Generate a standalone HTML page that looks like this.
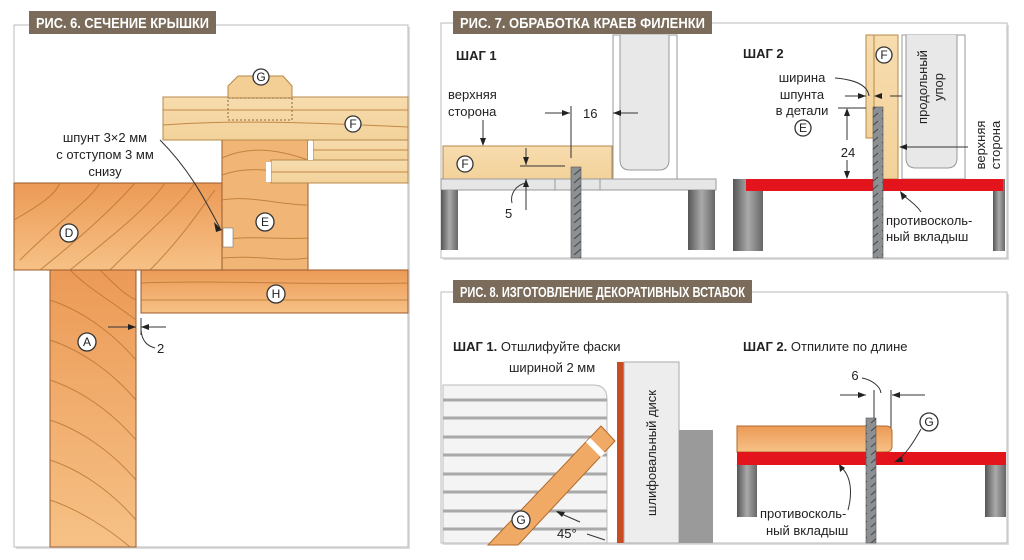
<!DOCTYPE html>
<html><head><meta charset="utf-8"><style>
body{margin:0;background:#fff;width:1024px;height:560px;overflow:hidden}
svg{display:block}
text{font-family:"Liberation Sans",sans-serif;fill:#222}
.t{font-family:"Liberation Sans",sans-serif;font-weight:bold;fill:#fff;font-size:15px}
.l{font-size:13px}
.c{fill:#fff;stroke:#333;stroke-width:1.3}
.cl{font-size:12px;text-anchor:middle}
.g{fill:none;stroke:#b8742e;stroke-width:1;opacity:.8}
</style></head><body>
<svg width="1024" height="560" viewBox="0 0 1024 560">
<defs>
<linearGradient id="leg" x1="0" x2="1"><stop offset="0" stop-color="#555"/><stop offset=".5" stop-color="#aaa"/><stop offset="1" stop-color="#666"/></linearGradient>
<linearGradient id="pw" x1="0" y1="0" x2="0" y2="1"><stop offset="0" stop-color="#f7dcae"/><stop offset="1" stop-color="#f3d29a"/></linearGradient>
<linearGradient id="ow" x1="0" y1="0" x2="0" y2="1"><stop offset="0" stop-color="#ec9a56"/><stop offset="1" stop-color="#f6c186"/></linearGradient>
<pattern id="bl" width="11" height="8" patternUnits="userSpaceOnUse"><rect width="11" height="8" fill="#8c9092"/><path d="M2 7 L9 1" stroke="#444" stroke-width="1"/></pattern>
</defs>
<rect x="16" y="27" width="394" height="522" fill="#ddd"/>
<rect x="14" y="25" width="394" height="522" fill="#fff" stroke="#bbb"/>
<rect x="443" y="25" width="566" height="235" fill="#ddd"/>
<rect x="441" y="23" width="566" height="235" fill="#fff" stroke="#bbb"/>
<rect x="443" y="294" width="566" height="251" fill="#ddd"/>
<rect x="441" y="292" width="566" height="251" fill="#fff" stroke="#bbb"/>

<!-- FIG 6 -->
<rect x="14" y="183" width="208" height="87" fill="url(#ow)" stroke="#9a5a2a"/>
<path class="g" d="M20 260 C60 220 90 200 100 183 M40 270 C90 230 120 200 135 183 M70 270 C120 230 150 205 165 183 M110 270 C150 230 180 205 195 183 M150 270 C180 240 200 210 215 190 M14 220 C40 205 55 195 60 183"/>
<rect x="222" y="140" width="86" height="130" fill="#f1b676" stroke="#9a5a2a"/>
<path class="g" d="M222 158 C250 145 280 150 308 160 M222 175 C250 165 280 170 308 180 M222 200 C250 195 280 205 308 205 M222 240 C250 235 280 240 308 238 M222 258 C260 255 280 262 308 258"/>
<rect x="223" y="228" width="10" height="19" fill="#fff" stroke="#777" stroke-width=".6"/>
<path d="M160 140 C190 170 205 200 220 228" fill="none" stroke="#333" stroke-width="1"/>
<path d="M214 222 L222 230 L216 232Z" fill="#222"/>
<rect x="163" y="97" width="245" height="43" fill="url(#pw)" stroke="#b58a4a"/>
<path class="g" d="M163 110 L408 110 M163 125 C230 120 300 122 408 127"/>
<rect x="313" y="140" width="95" height="20" fill="url(#pw)" stroke="#b58a4a"/>
<rect x="271" y="160" width="137" height="23" fill="url(#pw)" stroke="#b58a4a"/>
<rect x="308" y="141" width="5" height="19" fill="#fff"/>
<rect x="266" y="162" width="5" height="20" fill="#fff"/>
<path class="g" d="M313 150 H408 M271 172 H408"/>
<path d="M228 86 L238 76 L283 76 L292 86 L292 98 L228 98Z" fill="#f3cf95" stroke="#b58a4a"/>
<rect x="228" y="98" width="64" height="22" fill="none" stroke="#8a6a3a" stroke-dasharray="2,2"/>
<rect x="50" y="270" width="86" height="277" fill="url(#ow)" stroke="#9a5a2a"/>
<path class="g" d="M50 300 C80 310 110 330 136 360 M50 340 C80 350 110 370 136 400 M50 380 C80 390 110 410 136 440 M50 420 C80 430 110 450 136 480 M50 460 C80 470 110 490 136 520 M50 500 C80 510 110 530 130 547 M70 270 C90 290 110 300 136 320 M100 270 C115 285 125 295 136 300"/>
<rect x="141" y="270" width="267" height="43" fill="url(#ow)" stroke="#9a5a2a"/>
<path class="g" d="M141 283 C220 280 300 285 408 283 M141 300 H408"/>
<circle class="c" cx="261" cy="77" r="8"/><text class="cl" x="261" y="81">G</text>
<circle class="c" cx="353" cy="124" r="8"/><text class="cl" x="353" y="128">F</text>
<circle class="c" cx="265" cy="222" r="9"/><text class="cl" x="265" y="226">E</text>
<circle class="c" cx="69" cy="233" r="9"/><text class="cl" x="69" y="237">D</text>
<circle class="c" cx="276" cy="294" r="9"/><text class="cl" x="276" y="298">H</text>
<circle class="c" cx="87" cy="342" r="9"/><text class="cl" x="87" y="346">A</text>
<text class="l" x="105" y="142" text-anchor="middle">шпунт 3×2 мм</text>
<text class="l" x="105" y="159" text-anchor="middle">с отступом 3 мм</text>
<text class="l" x="105" y="176" text-anchor="middle">снизу</text>
<path d="M108 327 H136 M141 327 H166 M141 318 V335" stroke="#333" fill="none"/>
<path d="M136 327 l-8 -3 v6z M141 327 l8 -3 v6z" fill="#222"/>
<path d="M141 330 C142 342 148 346 155 348" fill="none" stroke="#333"/>
<text class="l" x="157" y="353">2</text>
<rect x="29" y="11" width="187" height="23" fill="#7a6b5a"/>
<text class="t" x="36" y="28" textLength="173" lengthAdjust="spacingAndGlyphs">РИС. 6. СЕЧЕНИЕ КРЫШКИ</text>

<!-- FIG 7 step 1 -->
<rect x="613" y="35" width="64" height="144" fill="#fff" stroke="#999"/>
<path d="M620 35 V160 Q620 170 630 170 H659 Q669 170 669 160 V35" fill="#e8e8e8" stroke="#999"/>
<rect x="453" y="11" width="259" height="23" fill="#7a6b5a"/>
<text class="t" x="460" y="28" textLength="245" lengthAdjust="spacingAndGlyphs">РИС. 7. ОБРАБОТКА КРАЕВ ФИЛЕНКИ</text>
<text x="456" y="60" font-weight="bold" font-size="13">ШАГ 1</text>
<text class="l" x="448" y="99">верхняя</text><text class="l" x="448" y="116">сторона</text>
<path d="M483 120 V144" stroke="#333"/><path d="M483 146 l-3 -8 h6z" fill="#222"/>
<rect x="443" y="146" width="169" height="33" fill="url(#pw)" stroke="#b58a4a"/>
<circle class="c" cx="465" cy="164" r="8"/><text class="cl" x="465" y="168">F</text>
<rect x="441" y="179" width="275" height="11" fill="#e6e6e6" stroke="#999"/>
<path d="M555 179 V190 M600 179 V190" stroke="#999"/>
<rect x="441" y="190" width="17" height="60" fill="url(#leg)"/>
<rect x="688" y="190" width="27" height="60" fill="url(#leg)"/>
<rect x="571" y="167" width="10" height="91" fill="url(#bl)" stroke="#555" stroke-width=".6"/>
<path d="M545 113 H570 M613 113 H638 M571 106 V158 M520 166 H565" stroke="#333" fill="none"/>
<path d="M570 113 l-8 -3 v6z M613 113 l8 -3 v6z" fill="#222"/>
<text class="l" x="583" y="118">16</text>
<path d="M526 148 V165 M526 179 V210" stroke="#333"/><path d="M526 165 l-3 -8 h6z M526 179 l-3 8 h6z" fill="#222"/>
<path d="M526 183 C515 185 510 195 512 203" fill="none" stroke="#333"/>
<text class="l" x="505" y="218">5</text>
<!-- step 2 -->
<text x="743" y="58" font-weight="bold" font-size="13">ШАГ 2</text>
<rect x="866" y="35" width="8" height="103" fill="url(#pw)" stroke="#b58a4a"/>
<rect x="874" y="35" width="24" height="144" fill="url(#pw)" stroke="#b58a4a"/>
<rect x="902" y="35" width="63" height="144" fill="#fff" stroke="#999"/>
<path d="M906 35 V158 Q906 168 916 168 H947 Q957 168 957 158 V35" fill="#e8e8e8" stroke="#999"/>
<circle class="c" cx="884" cy="55" r="8"/><text class="cl" x="884" y="59">F</text>
<rect x="733" y="179" width="30" height="72" fill="url(#leg)"/>
<rect x="993" y="179" width="12" height="72" fill="url(#leg)"/>
<rect x="746" y="179" width="257" height="12" fill="#e4141c"/>
<rect x="873" y="107" width="10" height="151" fill="url(#bl)" stroke="#555" stroke-width=".6"/>
<text class="l" x="802" y="82" text-anchor="middle">ширина</text>
<text class="l" x="802" y="99" text-anchor="middle">шпунта</text>
<text class="l" x="802" y="115" text-anchor="middle">в детали</text>
<circle class="c" cx="803" cy="124" r="8" transform="translate(0,4)"/><text class="cl" x="803" y="132">E</text>
<path d="M835 78 C860 80 868 88 869 96 M845 96 H866 M890 96 H902 M838 108 H866" stroke="#333" fill="none"/>
<path d="M866 96 l-8 -3 v6z M874 96 l8 -3 v6z" fill="#222"/>
<path d="M847 110 V140 M847 160 V177" stroke="#333"/><path d="M847 108 l-3 8 h6z M847 179 l-3 -8 h6z" fill="#222"/>
<text class="l" x="848" y="157" text-anchor="middle">24</text>
<text class="l" transform="translate(927,87) rotate(-90)" text-anchor="middle">продольный</text>
<text class="l" transform="translate(943,87) rotate(-90)" text-anchor="middle">упор</text>
<text class="l" transform="translate(985,145) rotate(-90)" text-anchor="middle">верхняя</text>
<text class="l" transform="translate(1000,145) rotate(-90)" text-anchor="middle">сторона</text>
<path d="M900 147 H968" stroke="#333"/><path d="M899 147 l8 -3 v6z" fill="#222"/>
<path d="M904 196 C912 202 918 207 921 212" stroke="#333" fill="none"/><path d="M900 191 l2 9 5 -4z" fill="#222"/>
<text class="l" x="886" y="225">противосколь-</text>
<text class="l" x="886" y="241">ный вкладыш</text>

<!-- FIG 8 -->
<rect x="453" y="280" width="299" height="23" fill="#7a6b5a"/>
<text class="t" x="460" y="297" textLength="285" lengthAdjust="spacingAndGlyphs">РИС. 8. ИЗГОТОВЛЕНИЕ ДЕКОРАТИВНЫХ ВСТАВОК</text>
<text x="453" y="351" font-size="13"><tspan font-weight="bold">ШАГ 1.</tspan> Отшлифуйте фаски</text>
<text class="l" x="509" y="372">шириной 2 мм</text>
<path d="M443 385 H593 Q607 385 607 399 V543 H443Z" fill="#f4f4f4" stroke="#bbb"/>
<g stroke="#a9a9a9" stroke-width="3">
<path d="M443 400 H607 M443 418 H607 M443 437 H607 M443 455 H607 M443 474 H607 M443 492 H607 M443 511 H607 M443 529 H607"/></g>
<rect x="617" y="362" width="7" height="181" fill="#c94c22"/>
<rect x="624" y="362" width="55" height="181" fill="#ededed" stroke="#aaa"/>
<rect x="679" y="430" width="34" height="113" fill="#9a9a9a"/>
<text class="l" transform="translate(656,453) rotate(-90)" text-anchor="middle">шлифовальный диск</text>
<path d="M601 426 L615 441 L518 545 L488 545Z" fill="#f0aa66" stroke="#b06a2a"/>
<path d="M588 440 L603 455" stroke="#fff" stroke-width="6"/>
<circle class="c" cx="521" cy="520" r="9"/><text class="cl" x="521" y="524">G</text>
<path d="M557 512 L580 522" stroke="#333"/><path d="M556 511 l9 1 -3 5z" fill="#222"/>
<path d="M587 534 L605 540" stroke="#333"/>
<text class="l" x="557" y="538">45°</text>
<text x="743" y="351" font-size="13"><tspan font-weight="bold">ШАГ 2.</tspan> Отпилите по длине</text>
<text class="l" x="855" y="380" text-anchor="middle">6</text>
<path d="M862 378 C872 380 880 386 881 393" stroke="#333" fill="none"/>
<path d="M840 395 H866 M892 395 H925 M874 390 V420 M891 390 V428" stroke="#333" fill="none"/>
<path d="M866 395 l-8 -3 v6z M892 395 l8 -3 v6z" fill="#222"/>
<path d="M737 426 H886 Q892 426 892 432 V446 Q892 452 886 452 H737Z" fill="url(#ow)" stroke="#b06a2a"/>
<rect x="737" y="465" width="20" height="52" fill="url(#leg)"/>
<rect x="985" y="465" width="21" height="52" fill="url(#leg)"/>
<rect x="737" y="452" width="269" height="13" fill="#e4141c"/>
<rect x="866" y="418" width="10" height="125" fill="url(#bl)" stroke="#555" stroke-width=".6"/>
<circle class="c" cx="929" cy="422" r="9"/><text class="cl" x="929" y="426">G</text>
<path d="M921 429 C912 445 905 455 897 460" stroke="#333" fill="none"/><path d="M894 462 l8 -6 1 6z" fill="#222"/>
<path d="M842 468 C852 478 852 495 848 510" stroke="#333" fill="none"/><path d="M839 464 l1 8 5 -4z" fill="#222"/>
<text class="l" x="760" y="518">противосколь-</text>
<text class="l" x="766" y="535">ный вкладыш</text>
</svg>
</body></html>
